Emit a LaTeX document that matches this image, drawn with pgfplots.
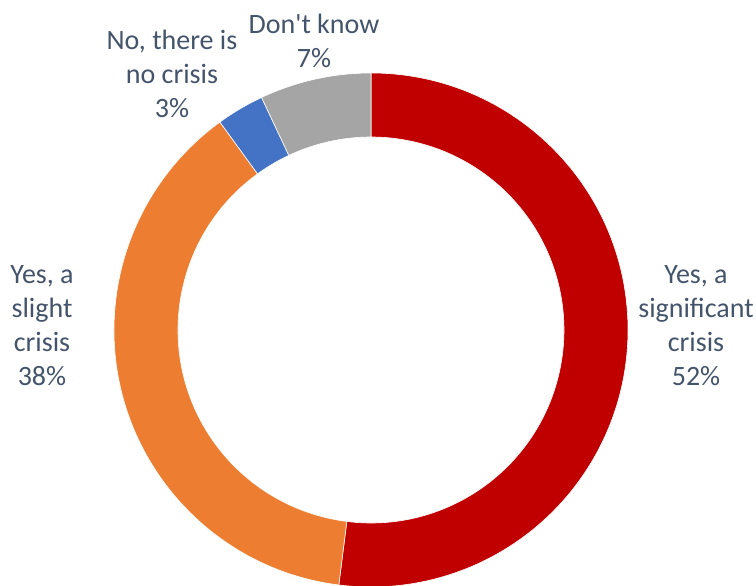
\documentclass[border=0pt]{standalone}
\usepackage{pgfplots}
\usepackage{pgfplotstable}
\pgfplotsset{compat=1.18}
\usepackage{fontspec}
\setmainfont{Carlito}[Ligatures=TeXOff]
\definecolor{cRed}{HTML}{C00000}
\definecolor{cOrange}{HTML}{ED7D31}
\definecolor{cBlue}{HTML}{4472C4}
\definecolor{cGrey}{HTML}{A5A5A5}
\definecolor{cText}{HTML}{44546A}

\pgfplotstableread{
label value
significant 52
slight 38
nocrisis 3
dontknow 7
}\datatable

\begin{document}
\begin{tikzpicture}
\pgfplotstablegetelem{0}{value}\of\datatable \let\vA\pgfplotsretval
\pgfplotstablegetelem{1}{value}\of\datatable \let\vB\pgfplotsretval
\pgfplotstablegetelem{2}{value}\of\datatable \let\vC\pgfplotsretval
\pgfplotstablegetelem{3}{value}\of\datatable \let\vD\pgfplotsretval
\pgfmathsetmacro\tot{\vA+\vB+\vC+\vD}
\pgfmathsetmacro\aO{90}
\pgfmathsetmacro\aA{90-(\vA/\tot)*360}
\pgfmathsetmacro\aB{90-((\vA+\vB)/\tot)*360}
\pgfmathsetmacro\aC{90-((\vA+\vB+\vC)/\tot)*360}
\pgfmathsetmacro\aD{90-((\vA+\vB+\vC+\vD)/\tot)*360}
\def\Ro{257pt}
\def\Ri{193pt}
\def\W{64pt}
\begin{axis}[
  hide axis, scale only axis,
  width=756pt, height=586pt,
  xmin=0, xmax=756, ymin=0, ymax=586,
  clip=false,
]
\fill[cRed, draw=white, line width=0.6pt] (axis cs:371,256) ++(\aO:\Ro) arc[start angle=\aO, end angle=\aA, radius=\Ro] -- ++(\aA+180:\W) arc[start angle=\aA, end angle=\aO, radius=\Ri] -- cycle;
\fill[cOrange, draw=white, line width=0.6pt] (axis cs:371,256) ++(\aA:\Ro) arc[start angle=\aA, end angle=\aB, radius=\Ro] -- ++(\aB+180:\W) arc[start angle=\aB, end angle=\aA, radius=\Ri] -- cycle;
\fill[cBlue, draw=white, line width=0.6pt] (axis cs:371,256) ++(\aB:\Ro) arc[start angle=\aB, end angle=\aC, radius=\Ro] -- ++(\aC+180:\W) arc[start angle=\aC, end angle=\aB, radius=\Ri] -- cycle;
\fill[cGrey, draw=white, line width=0.6pt] (axis cs:371,256) ++(\aC:\Ro) arc[start angle=\aC, end angle=\aD, radius=\Ro] -- ++(\aD+180:\W) arc[start angle=\aD, end angle=\aC, radius=\Ri] -- cycle;

\tikzset{lbl/.style={align=center, text=cText, font=\fontsize{28}{34}\selectfont, inner sep=0pt}}
\node[lbl] at (axis cs:696,260) {Yes, a\\significant\\crisis\\52\%};
\node[lbl] at (axis cs:42,260) {Yes, a\\slight\\crisis\\38\%};
\node[lbl] at (axis cs:172,512) {No, there is\\no crisis\\3\%};
\node[lbl] at (axis cs:314,545) {Don't know\\7\%};
\end{axis}
\pgfresetboundingbox
\path (0,0) rectangle (756pt,586pt);
\end{tikzpicture}
\end{document}
